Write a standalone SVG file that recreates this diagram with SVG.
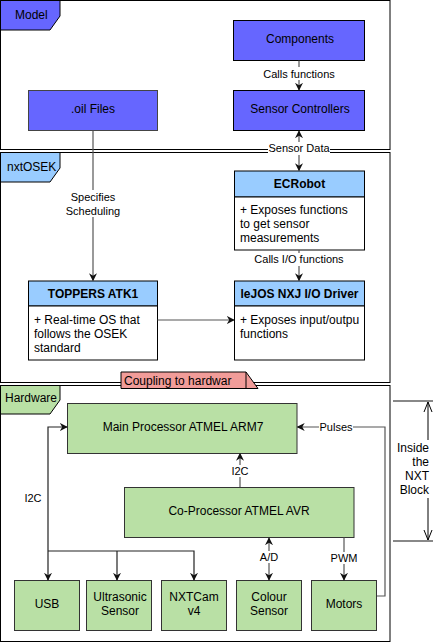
<svg xmlns="http://www.w3.org/2000/svg" width="433" height="643" viewBox="0 0 433 643">
<style>
text{font-family:"Liberation Sans",Arial,sans-serif;font-size:12px;fill:#000}
.c{text-anchor:middle}
.b{font-weight:bold}
.s{font-size:11px}
.frame{fill:#fff;stroke:#000;stroke-width:1}
.blue{fill:#6666ff;stroke:#000;stroke-width:1}
.lb{fill:#99ccff;stroke:#000;stroke-width:1}
.wh{fill:#fff;stroke:#000;stroke-width:1}
.gr{fill:#b9e0a5;stroke:#333;stroke-width:1}
.ln{fill:none;stroke:#555;stroke-width:1.2}
.dim{fill:none;stroke:#888;stroke-width:2}
</style>
<defs>
<marker id="a" viewBox="0 0 10 10" refX="9" refY="5" markerWidth="8" markerHeight="8" markerUnits="userSpaceOnUse" orient="auto-start-reverse"><path d="M0,0 L10,5 L0,10 L3,5 z" fill="#111"/></marker>
<marker id="o" viewBox="0 0 10 10" refX="10" refY="5" markerWidth="10" markerHeight="10" markerUnits="userSpaceOnUse" orient="auto-start-reverse"><path d="M0,1 L10,5 L0,9" fill="none" stroke="#000" stroke-width="1"/></marker>
<clipPath id="cp"><rect x="121" y="372" width="115" height="17"/></clipPath>
<clipPath id="cl"><rect x="234" y="306" width="128" height="54"/></clipPath>
</defs>

<g id="frame-model">
<rect class="frame" x="0.5" y="0.5" width="389.5" height="149"/>
<polygon class="blue" points="0.5,0.5 60,0.5 60,16 50,30 0.5,30"/>
<text x="15" y="19">Model</text>
</g>
<g id="frame-nxtosek">
<rect class="frame" x="0.5" y="152.5" width="389.5" height="230"/>
<polygon class="lb" points="0.5,152.5 60,152.5 60,168 50,182 0.5,182"/>
<text x="7" y="171">nxtOSEK</text>
</g>
<g id="frame-hardware">
<rect class="frame" x="0.5" y="385.5" width="389.5" height="256"/>
<polygon class="gr" points="0.5,385.5 60,385.5 60,400 50,414 0.5,414" style="stroke:#000"/>
<text x="5" y="402">Hardware</text>
</g>

<g id="components">
<rect class="blue" x="233.5" y="20.5" width="131" height="40"/>
<text class="c" x="300" y="43">Components</text>
</g>
<g id="sensor-controllers">
<rect class="blue" x="233.5" y="90.5" width="131" height="40"/>
<text class="c" x="300" y="113">Sensor Controllers</text>
</g>
<g id="oil-files">
<rect class="blue" x="28.5" y="90.5" width="129" height="40" style="stroke:#444"/>
<text class="c" x="93" y="113">.oil Files</text>
</g>

<g id="ecrobot">
<rect class="lb" x="234.5" y="171" width="130" height="26"/>
<rect class="wh" x="234.5" y="197" width="130" height="53"/>
<text class="c b" x="299.5" y="188">ECRobot</text>
<text x="240" y="214">+ Exposes functions</text>
<text x="240" y="228">to get sensor</text>
<text x="240" y="242">measurements</text>
</g>
<g id="toppers">
<rect class="lb" x="28.5" y="281" width="129" height="25"/>
<rect class="wh" x="28.5" y="306" width="129" height="54"/>
<text class="c b" x="93" y="298">TOPPERS ATK1</text>
<text x="34" y="324">+ Real-time OS that</text>
<text x="34" y="338">follows the OSEK</text>
<text x="34" y="352">standard</text>
</g>
<g id="lejos">
<rect class="lb" x="234.5" y="281" width="130" height="25"/>
<rect class="wh" x="234.5" y="306" width="130" height="54"/>
<text class="c b" x="299.5" y="298">leJOS NXJ I/O Driver</text>
<g clip-path="url(#cl)">
<text x="240" y="324">+ Exposes input/outpu</text>
<text x="240" y="338">functions</text>
</g>
</g>

<g id="coupling">
<polygon points="121,372 246,372 258,388.5 121,388.5" fill="#f19c99" stroke="#000" stroke-width="1"/>
<line x1="246" y1="372" x2="246" y2="388.5" stroke="#000" stroke-width="1"/>
<text x="124" y="385" clip-path="url(#cp)">Coupling to hardwar</text>
</g>

<g id="main-processor">
<rect class="gr" x="67.5" y="403.5" width="229.5" height="50"/>
<text class="c" x="183" y="431">Main Processor ATMEL ARM7</text>
</g>
<g id="co-processor">
<rect class="gr" x="124.5" y="487.5" width="229.5" height="50"/>
<text class="c" x="239" y="515">Co-Processor ATMEL AVR</text>
</g>
<g id="usb">
<rect class="gr" x="14.5" y="580.5" width="65" height="50"/>
<text class="c" x="47" y="608">USB</text>
</g>
<g id="ultrasonic">
<rect class="gr" x="86.5" y="580.5" width="65" height="50"/>
<text class="c" x="120" y="601">Ultrasonic</text>
<text class="c" x="120" y="615">Sensor</text>
</g>
<g id="nxtcam">
<rect class="gr" x="161.5" y="580.5" width="65" height="50"/>
<text class="c" x="194" y="601">NXTCam</text>
<text class="c" x="194" y="615">v4</text>
</g>
<g id="colour">
<rect class="gr" x="236.5" y="580.5" width="65" height="50"/>
<text class="c" x="269" y="601">Colour</text>
<text class="c" x="269" y="615">Sensor</text>
</g>
<g id="motors">
<rect class="gr" x="311.5" y="580.5" width="65" height="50"/>
<text class="c" x="344" y="608">Motors</text>
</g>

<g id="connectors">
<path class="ln" d="M299,60.5 V90" marker-end="url(#a)"/>
<rect x="262" y="67" width="74" height="13" fill="#fff"/>
<text class="c s" x="299" y="78">Calls functions</text>

<path class="ln" d="M299,131 V170.5" marker-start="url(#a)" marker-end="url(#a)"/>
<rect x="268" y="142" width="62" height="13" fill="#fff"/>
<text class="c s" x="299" y="152">Sensor Data</text>

<path class="ln" d="M93,130.5 V280.5" marker-end="url(#a)"/>
<rect x="64" y="190" width="58" height="27" fill="#fff"/>
<text class="c s" x="93" y="201">Specifies</text>
<text class="c s" x="93" y="215">Scheduling</text>

<path class="ln" d="M299,250 V280.5" marker-end="url(#a)"/>
<rect x="255" y="253" width="88" height="13" fill="#fff"/>
<text class="c s" x="299" y="263">Calls I/O functions</text>

<path class="ln" d="M157.5,320 H234" marker-end="url(#a)"/>

<path class="ln" d="M240,487 V453.5" marker-end="url(#a)"/>
<rect x="230" y="465" width="20" height="12" fill="#fff"/>
<text class="c s" x="240" y="475">I2C</text>

<path class="ln" d="M67,427 H48 V580" marker-start="url(#a)" marker-end="url(#a)" style="stroke:#222"/>
<path class="ln" d="M48,551 H194 V580" marker-end="url(#a)" style="stroke:#222"/>
<path class="ln" d="M117,551 V580" marker-end="url(#a)" style="stroke:#222"/>
<rect x="23" y="492" width="20" height="12" fill="#fff"/>
<text class="c s" x="33" y="502">I2C</text>

<path class="ln" d="M269,538 V580" marker-start="url(#a)" marker-end="url(#a)"/>
<rect x="257" y="551" width="24" height="12" fill="#fff"/>
<text class="c s" x="269" y="561">A/D</text>

<path class="ln" d="M344,537.5 V580" marker-end="url(#a)"/>
<rect x="330" y="552" width="28" height="12" fill="#fff"/>
<text class="c s" x="344" y="562">PWM</text>

<path class="ln" d="M377,596 H385 V427 H297.5" marker-end="url(#a)"/>
<rect x="319" y="421" width="34" height="12" fill="#fff"/>
<text class="c s" x="336" y="431">Pulses</text>
</g>

<g id="dimension">
<line class="dim" x1="393" y1="401" x2="433" y2="401"/>
<line class="dim" x1="393" y1="541" x2="433" y2="541"/>
<path d="M428,402 V540" fill="none" stroke="#000" stroke-width="1" marker-start="url(#o)" marker-end="url(#o)"/>
<rect x="393" y="440" width="40" height="58" fill="#fff"/>
<text x="429" y="452" text-anchor="end">Inside</text>
<text x="429" y="466" text-anchor="end">the</text>
<text x="429" y="480" text-anchor="end">NXT</text>
<text x="429" y="494" text-anchor="end">Block</text>
</g>
</svg>
